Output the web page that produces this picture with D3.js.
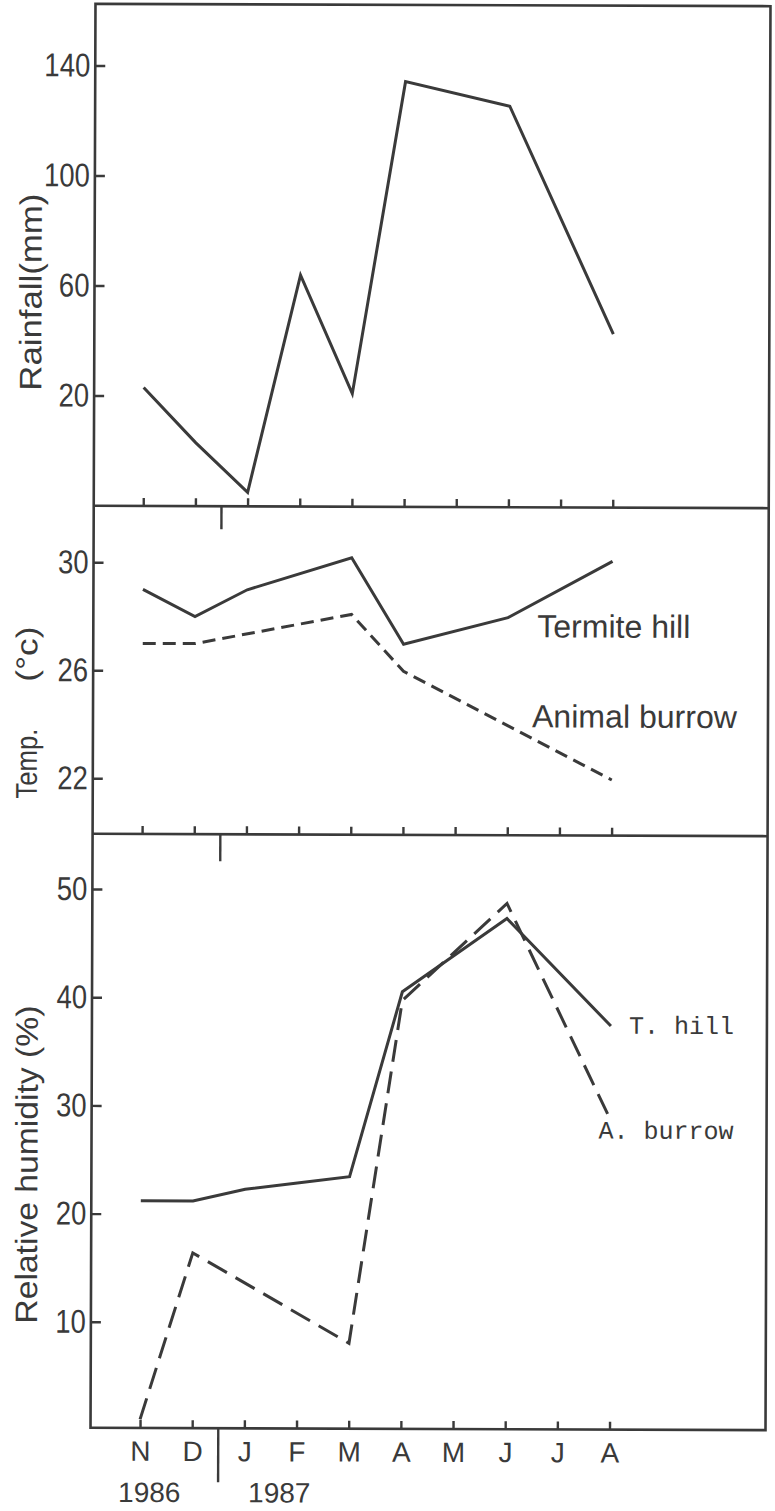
<!DOCTYPE html>
<html>
<head>
<meta charset="utf-8">
<script src="https://cdn.jsdelivr.net/npm/d3@7"></script>
<style>
  body { margin: 0; background: #fff; }
  svg { display: block; }
  text { font-family: "Liberation Sans", Arial, sans-serif; fill: #3a3a3a; }
</style>
</head>
<body>
<svg id="chart" width="775" height="1511"></svg>
<script>
// Months Nov 1986 – Aug 1987
const months = ["N", "D", "J", "F", "M", "A", "M", "J", "J", "A"];
const years = ["1986", "1987"];

// Monthly rainfall (mm); null = no reading plotted for that month
const rainfall = [23, 3, -15, 64, 21, 134.5, null, 125.7, null, 43];

// Temperature (°C)
const tempTermiteHill = [29.0, 28.0, 29.0, null, 30.2, 27.0, null, 28.0, null, 30.1];
const tempAnimalBurrow = [27.0, 27.0, null, null, 28.1, 26.0, null, 24.0, null, 22.0];

// Relative humidity (%)
const rhTermiteHill = [21.2, 21.2, 22.3, 22.9, 23.5, 40.6, null, 47.4, null, 37.5];
const rhAnimalBurrow = [1.0, 16.4, null, null, 8.1, 39.8, null, 48.8, null, 28.8];

// Axis tick values
const rainTicks = [20, 60, 100, 140];
const tempTicks = [22, 26, 30];
const rhTicks = [10, 20, 30, 40, 50];

const ink = "#3a3a3a";
// The hand-drawn sheet sits very slightly askew
const svg = d3.select("#chart").append("g").attr("transform", "rotate(0.2, 430, 717)");

const left = 93, right = 768;
const panels = { rain: [5, 507], temp: [507, 835], rh: [835, 1429] };

const x = d3.scalePoint().domain(d3.range(months.length)).range([142.5, 612]);
const yRain = d3.scaleLinear().domain([-20.1, 162.4]).range([panels.rain[1], panels.rain[0]]);
const yTemp = d3.scaleLinear().domain([19.94, 32.09]).range([panels.temp[1], panels.temp[0]]);
const yRH = d3.scaleLinear().domain([0.2, 55.1]).range([panels.rh[1], panels.rh[0]]);

// Outer frame and panel separators
const frame = svg.append("g").attr("stroke", ink).attr("stroke-width", 2.6).attr("fill", "none");
frame.append("rect").attr("x", left).attr("y", panels.rain[0])
  .attr("width", right - left).attr("height", panels.rh[1] - panels.rain[0]);
[panels.rain[1], panels.temp[1]].forEach(yy =>
  frame.append("line").attr("x1", left).attr("x2", right).attr("y1", yy).attr("y2", yy));

// Left axes with inward ticks
function leftAxis(scale, ticks) {
  const g = svg.append("g").attr("transform", `translate(${left},0)`)
    .call(d3.axisLeft(scale).tickValues(ticks).tickSize(-10).tickPadding(5).tickFormat(d3.format("d")));
  g.select(".domain").remove();
  g.selectAll(".tick line").attr("stroke", ink).attr("stroke-width", 2.4);
  g.selectAll(".tick text")
    .attr("font-size", 33)
    .attr("fill", ink)
    .style("font-family", "'Liberation Sans', Arial, sans-serif")
    .attr("textLength", d => String(d).length * 15.3)
    .attr("lengthAdjust", "spacingAndGlyphs");
  return g;
}
leftAxis(yRain, rainTicks);
leftAxis(yTemp, tempTicks);
leftAxis(yRH, rhTicks);

// Month ticks on each panel's base line
function monthAxis(yPos, withLabels) {
  const ax = d3.axisBottom(x).tickSize(-8).tickPadding(13)
    .tickFormat(withLabels ? (i => months[i]) : "");
  const g = svg.append("g").attr("transform", `translate(0,${yPos})`).call(ax);
  g.select(".domain").remove();
  g.selectAll(".tick line").attr("stroke", ink).attr("stroke-width", 2.4);
  g.selectAll(".tick text").attr("font-size", 28).attr("fill", ink)
    .style("font-family", "'Liberation Sans', Arial, sans-serif");
  return g;
}
monthAxis(panels.rain[1], false);
monthAxis(panels.temp[1], false);
monthAxis(panels.rh[1], true);

// Year boundary marks (between Dec and Jan)
const xYear = (x(1) + x(2)) / 2;
[[panels.rain[1], 23], [panels.temp[1], 27], [panels.rh[1], 54]].forEach(([y0, len]) =>
  svg.append("line").attr("x1", xYear).attr("x2", xYear).attr("y1", y0).attr("y2", y0 + len)
    .attr("stroke", ink).attr("stroke-width", 2.4));

svg.append("text").attr("x", 152).attr("y", 1503).attr("text-anchor", "middle")
  .attr("font-size", 28).text(years[0]);
svg.append("text").attr("x", 282).attr("y", 1503).attr("text-anchor", "middle")
  .attr("font-size", 28).text(years[1]);

// Series lines
function drawSeries(values, yScale, dash) {
  const pts = values.map((v, i) => ({ i, v })).filter(d => d.v != null);
  const line = d3.line().x(d => x(d.i)).y(d => yScale(d.v));
  svg.append("path").datum(pts).attr("d", line)
    .attr("fill", "none").attr("stroke", ink).attr("stroke-width", 3)
    .attr("stroke-linejoin", "miter")
    .attr("stroke-dasharray", dash || null);
}
drawSeries(rainfall, yRain);
drawSeries(tempTermiteHill, yTemp);
drawSeries(tempAnimalBurrow, yTemp, "13,7");
drawSeries(rhTermiteHill, yRH);
drawSeries(rhAnimalBurrow, yRH, "22,10");

// Series labels
svg.append("text").attr("x", 537).attr("y", 637).attr("font-size", 32)
  .attr("textLength", 153).attr("lengthAdjust", "spacingAndGlyphs").text("Termite hill");
svg.append("text").attr("x", 532).attr("y", 727).attr("font-size", 32)
  .attr("textLength", 205).attr("lengthAdjust", "spacingAndGlyphs").text("Animal burrow");
svg.append("text").attr("x", 630).attr("y", 1033).attr("font-size", 25)
  .style("font-family", "'Liberation Mono', 'Courier New', monospace").attr("fill", "#555")
  .text("T. hill");
svg.append("text").attr("x", 600).attr("y", 1138).attr("font-size", 25)
  .style("font-family", "'Liberation Mono', 'Courier New', monospace").attr("fill", "#555")
  .text("A. burrow");

// Y axis titles
function yTitle(txt, cx, cy, len, size) {
  svg.append("text")
    .attr("transform", `translate(${cx},${cy}) rotate(-90)`)
    .attr("text-anchor", "middle")
    .attr("font-size", size)
    .attr("textLength", len).attr("lengthAdjust", "spacingAndGlyphs")
    .text(txt);
}
yTitle("Rainfall(mm)", 40, 293.5, 197, 31);
yTitle("Temp.", 37, 765, 70, 30);
yTitle("(°c)", 37, 655.5, 55, 30);
yTitle("Relative humidity (%)", 39, 1166, 318, 31);
</script>
</body>
</html>
